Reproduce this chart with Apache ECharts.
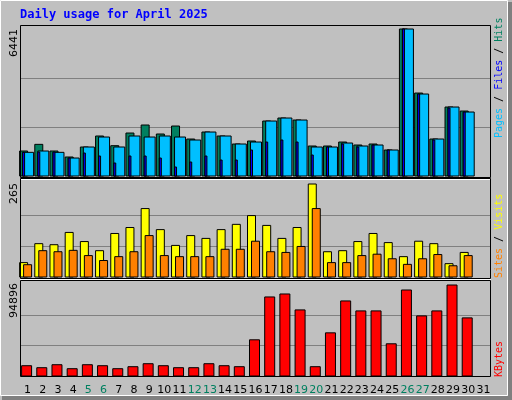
<!DOCTYPE html>
<html><head><meta charset="utf-8">
<script src="https://cdn.jsdelivr.net/npm/echarts@6/dist/echarts.min.js"></script>
<style>html,body{margin:0;padding:0;background:#c0c0c0}#c{width:512px;height:400px}</style>
</head><body><div id="c"></div>
<script>
// day labels, weekends drawn green
const days = Array.from({length: 31}, (_, i) => String(i + 1));
const weekend = ['5','6','12','13','19','20','26','27'];

const hits  = [1095,1387,1095,832,1270,1752,1328,1883,2234,1840,2190,1620,1927,1752,1402,1533,2409,2540,2453,1314,1314,1489,1358,1402,1139,6441,3635,1620,3022,2847,0];
const pages = [1037,1095,1037,788,1270,1708,1270,1752,1708,1752,1708,1577,1927,1752,1402,1489,2409,2540,2453,1270,1270,1445,1314,1358,1139,6441,3592,1620,3022,2803,0];
const files = [1037,1051,1051,788,1007,876,569,876,876,788,394,613,876,700,700,1139,1489,1577,1489,920,1270,1402,1270,1358,1139,6441,3592,1577,2978,2803,0];
const visits = [41,95,92,127,101,75,124,141,195,135,90,118,110,135,150,175,147,110,141,265,72,75,101,124,98,58,102,95,38,70,0];
const sites  = [35,75,72,76,61,47,58,72,118,61,58,58,58,79,79,102,72,70,87,195,41,41,61,65,52,36,52,64,32,61,0];
const kbytes = [10736,8658,11774,7619,11774,10736,7619,9697,12813,10736,8658,8658,12813,10736,9697,37747,82420,85536,68914,9697,45019,78264,67875,67875,33591,89692,62680,67875,94896,60603,0];

const maxHits = 6441, maxVisits = 265, maxK = 94896;

const chart = echarts.init(document.getElementById('c'));

function rect(api, i, v, x0, w, fill) {
  const base = api.coord([i, 0]);
  const top = api.coord([i, v]);
  return { type: 'rect', shape: { x: base[0] + x0, y: top[1], width: w, height: base[1] - top[1] },
    style: { fill: fill, stroke: '#000', lineWidth: 1 } };
}

function panelY(idx, max) {
  return { type: 'value', gridIndex: idx, min: 0, max: max, interval: max / 3,
    axisLabel: { show: false }, axisLine: { show: false }, axisTick: { show: false },
    splitLine: { lineStyle: { color: ['rgba(0,0,0,0)', '#808080', '#808080', 'rgba(0,0,0,0)'], width: 1 } } };
}
function panelX(idx, show) {
  return { type: 'category', gridIndex: idx, data: days, boundaryGap: true,
    axisLine: { show: false }, axisTick: { show: false }, splitLine: { show: false },
    axisLabel: { show: show, margin: 9, fontFamily: 'DejaVu Sans', fontSize: 11, interval: 0,
      color: v => weekend.includes(v) ? '#008060' : '#000' } };
}

const rot = Math.PI / 2;
const mono = 'DejaVu Sans Mono';

chart.setOption({
  animation: false,
  backgroundColor: '#c0c0c0',
  grid: [
    { left: 20, right: 21, top: 29, height: 147 },
    { left: 20, right: 21, top: 184, height: 93 },
    { left: 20, right: 21, top: 285, height: 91 }
  ],
  xAxis: [panelX(0, false), panelX(1, false), panelX(2, true)],
  yAxis: [panelY(0, maxHits), panelY(1, maxVisits), panelY(2, maxK)],
  series: [
    { type: 'custom', xAxisIndex: 0, yAxisIndex: 0, data: days.map((d, i) => [i, hits[i], pages[i], files[i]]),
      renderItem: (p, api) => {
        const i = api.value(0);
        if (!api.value(1)) return null;
        return { type: 'group', children: [
          rect(api, i, api.value(1), -8, 8, '#008060'),
          rect(api, i, api.value(2), -5, 11, '#00bfff'),
          rect(api, i, api.value(3), -5, 2, '#0000ff')
        ] };
      } },
    { type: 'custom', xAxisIndex: 1, yAxisIndex: 1, data: days.map((d, i) => [i, visits[i], sites[i]]),
      renderItem: (p, api) => {
        const i = api.value(0);
        if (!api.value(1)) return null;
        return { type: 'group', children: [
          rect(api, i, api.value(1), -8, 8, '#ffff00'),
          rect(api, i, api.value(2), -4, 8, '#ff8000')
        ] };
      } },
    { type: 'custom', xAxisIndex: 2, yAxisIndex: 2, data: days.map((d, i) => [i, kbytes[i]]),
      renderItem: (p, api) => {
        const i = api.value(0);
        if (!api.value(1)) return null;
        return rect(api, i, api.value(1), -6, 10, '#ff0000');
      } }
  ],
  graphic: [
    // outer frame
    { type: 'rect', shape: { x: 0.5, y: 0.5, width: 507, height: 395 }, style: { fill: 'none', stroke: '#fff', lineWidth: 1 }, z: 0 },
    { type: 'rect', shape: { x: 508, y: 2, width: 4, height: 398 }, style: { fill: '#808080' }, z: 0 },
    { type: 'rect', shape: { x: 2, y: 396, width: 510, height: 4 }, style: { fill: '#808080' }, z: 0 },
    // panel frames
    { type: 'rect', shape: { x: 20.5, y: 25.5, width: 470, height: 152 }, style: { fill: 'none', stroke: '#000', lineWidth: 1 }, z: 10 },
    { type: 'line', shape: { x1: 20, y1: 179.5, x2: 491, y2: 179.5 }, style: { stroke: '#fff' }, z: 10 },
    { type: 'rect', shape: { x: 20.5, y: 178.5, width: 470, height: 100 }, style: { fill: 'none', stroke: '#000', lineWidth: 1 }, z: 10 },
    { type: 'line', shape: { x1: 20, y1: 279.5, x2: 491, y2: 279.5 }, style: { stroke: '#fff' }, z: 10 },
    { type: 'rect', shape: { x: 20.5, y: 280.5, width: 470, height: 96 }, style: { fill: 'none', stroke: '#000', lineWidth: 1 }, z: 10 },
    // title
    { type: 'text', x: 20, y: 9, style: { text: 'Daily usage for April 2025', fill: '#0000ff', font: 'bold 12px "DejaVu Sans Mono"' } },
    // max labels
    { type: 'text', x: 9, y: 29, rotation: rot, style: { text: String(maxHits), fill: '#000', font: '11px "DejaVu Sans"', align: 'right', verticalAlign: 'top' } },
    { type: 'text', x: 9, y: 183, rotation: rot, style: { text: String(maxVisits), fill: '#000', font: '11px "DejaVu Sans"', align: 'right', verticalAlign: 'top' } },
    { type: 'text', x: 9, y: 283, rotation: rot, style: { text: String(maxK), fill: '#000', font: '11px "DejaVu Sans"', align: 'right', verticalAlign: 'top' } },
    // legends
    { type: 'text', x: 494, y: 138, rotation: rot, style: { text: '{p|Pages}{s| / }{f|Files}{s| / }{h|Hits}', align: 'left', verticalAlign: 'top',
      rich: { p: { fill: '#00bfff', font: '10px ' + mono }, f: { fill: '#0000ff', font: '10px ' + mono }, h: { fill: '#008060', font: '10px ' + mono }, s: { fill: '#000', font: '10px ' + mono } } } },
    { type: 'text', x: 494, y: 278, rotation: rot, style: { text: '{a|Sites}{s| / }{b|Visits}', align: 'left', verticalAlign: 'top',
      rich: { a: { fill: '#ff8000', font: '10px ' + mono }, b: { fill: '#ffff00', font: '10px ' + mono }, s: { fill: '#000', font: '10px ' + mono } } } },
    { type: 'text', x: 494, y: 377, rotation: rot, style: { text: 'KBytes', fill: '#ff0000', font: '10px ' + mono, align: 'left', verticalAlign: 'top' } }
  ]
});
</script></body></html>
